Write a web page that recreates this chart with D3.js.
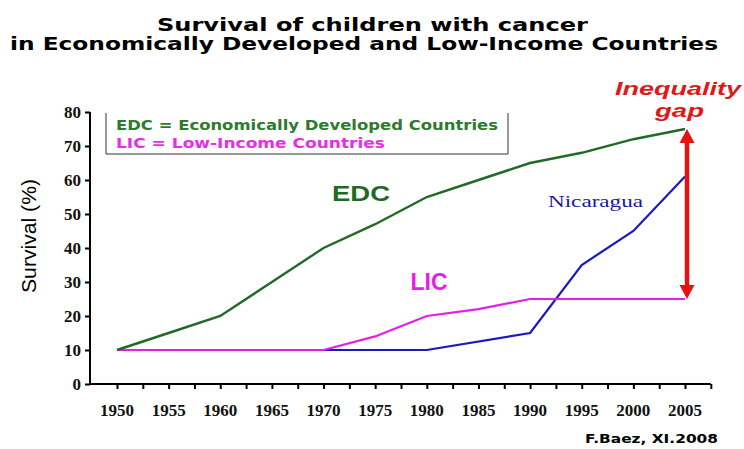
<!DOCTYPE html>
<html>
<head>
<meta charset="utf-8">
<script src="https://cdn.jsdelivr.net/npm/d3@7"></script>
<style>
  body { margin: 0; background: #fff; }
</style>
</head>
<body>
<div id="chart"></div>
<script>
// survival (%)
const years = [1950, 1955, 1960, 1965, 1970, 1975, 1980, 1985, 1990, 1995, 2000, 2005]
const edcValues = [10, 15, 20, 30, 40, 47, 55, 60, 65, 68, 72, 75]
const licValues = [10, 10, 10, 10, 10, 14, 20, 22, 25, 25, 25, 25]
const nicYears = [1970, 1980, 1990, 1995, 2000, 2005]
const nicValues = [10, 10, 15, 35, 45, 61]
const yTicks = [0, 10, 20, 30, 40, 50, 60, 70, 80]
const xLabels = ['1950', '1955', '1960', '1965', '1970', '1975', '1980', '1985', '1990', '1995', '2000', '2005']

const width = 744
const height = 449

const svg = d3.select('#chart')
    .append('svg')
    .attr('width', width)
    .attr('height', height)

const x = d3.scaleLinear().domain([1950, 2005]).range([117, 685])
const y = d3.scaleLinear().domain([0, 80]).range([384, 112])

// title (original font is wider than DejaVu, so stretch to fit)
svg.append('text')
    .attr('x', 157).attr('y', 31)
    .attr('textLength', 431).attr('lengthAdjust', 'spacingAndGlyphs')
    .style('font-family', 'DejaVu Sans').style('font-weight', 'bold').style('font-size', '17px')
    .text('Survival of children with cancer')
svg.append('text')
    .attr('x', 10).attr('y', 50)
    .attr('textLength', 708).attr('lengthAdjust', 'spacingAndGlyphs')
    .style('font-family', 'DejaVu Sans').style('font-weight', 'bold').style('font-size', '17px')
    .text('in Economically Developed and Low-Income Countries')

// y axis
const yAxis = svg.append('g')
    .attr('transform', 'translate(90,0)')
    .call(d3.axisLeft(y).tickValues(yTicks).tickSize(5).tickSizeOuter(0))
yAxis.select('.domain').attr('stroke', '#000').attr('stroke-width', 2).attr('d', `M0,${y(80)}V${y(0) + 1}`)
yAxis.selectAll('.tick line').attr('stroke-width', 2)
yAxis.selectAll('.tick text')
    .attr('x', -9)
    .style('font-family', 'Liberation Serif').style('font-weight', 'bold').style('font-size', '17px')
    .attr('fill', '#111')

// x axis with half-interval ticks
const xTickVals = d3.range(1950, 2008.5, 2.5)
const xAxis = svg.append('g')
    .attr('transform', `translate(0,${y(0)})`)
    .call(d3.axisBottom(x).tickValues(xTickVals).tickSize(5).tickFormat(''))
xAxis.select('.domain').attr('stroke', '#000').attr('stroke-width', 2).attr('d', `M89,0H${x(2007.5)}`)
xAxis.selectAll('.tick line').attr('stroke-width', 2)

svg.append('g').selectAll('text')
    .data(xLabels)
    .join('text')
    .attr('x', d => x(+d))
    .attr('y', 416)
    .attr('text-anchor', 'middle')
    .style('font-family', 'Liberation Serif').style('font-weight', 'bold').style('font-size', '17px')
    .attr('fill', '#111')
    .text(d => d)

// y axis title
svg.append('text')
    .attr('transform', 'translate(36,236) rotate(-90)')
    .attr('text-anchor', 'middle')
    .attr('textLength', 114).attr('lengthAdjust', 'spacingAndGlyphs')
    .style('font-family', 'Liberation Sans').style('font-size', '21px')
    .text('Survival (%)')

// legend box (no top border)
svg.append('path')
    .attr('d', 'M106,113V154H508V113')
    .attr('fill', 'none').attr('stroke', '#333').attr('stroke-width', 1)
svg.append('text')
    .attr('x', 116).attr('y', 130)
    .attr('textLength', 382).attr('lengthAdjust', 'spacingAndGlyphs')
    .style('font-family', 'DejaVu Sans').style('font-weight', 'bold').style('font-size', '14px')
    .attr('fill', '#2e7a2e')
    .text('EDC = Economically Developed Countries')
svg.append('text')
    .attr('x', 116).attr('y', 148)
    .attr('textLength', 269).attr('lengthAdjust', 'spacingAndGlyphs')
    .style('font-family', 'DejaVu Sans').style('font-weight', 'bold').style('font-size', '14px')
    .attr('fill', '#e62ee6')
    .text('LIC = Low-Income Countries')

const line = d3.line().x(d => x(d[0])).y(d => y(d[1]))

svg.append('path')
    .datum(d3.zip(nicYears, nicValues))
    .attr('d', line)
    .attr('fill', 'none').attr('stroke', '#1a1ac0').attr('stroke-width', 2.2)

svg.append('path')
    .datum(d3.zip(years, licValues))
    .attr('d', line)
    .attr('fill', 'none').attr('stroke', '#e61ee6').attr('stroke-width', 2.2)

svg.append('path')
    .datum(d3.zip(years, edcValues))
    .attr('d', line)
    .attr('fill', 'none').attr('stroke', '#1f6b24').attr('stroke-width', 2.4)

// series labels
svg.append('text')
    .attr('x', 332).attr('y', 201)
    .attr('textLength', 58).attr('lengthAdjust', 'spacingAndGlyphs')
    .style('font-family', 'Liberation Sans').style('font-weight', 'bold').style('font-size', '22px')
    .attr('fill', '#1f6b24')
    .text('EDC')
svg.append('text')
    .attr('x', 429).attr('y', 290)
    .attr('text-anchor', 'middle')
    .style('font-family', 'Liberation Sans').style('font-weight', 'bold').style('font-size', '23px')
    .attr('fill', '#e61ee6')
    .text('LIC')
svg.append('text')
    .attr('x', 548).attr('y', 207)
    .attr('textLength', 95).attr('lengthAdjust', 'spacingAndGlyphs')
    .style('font-family', 'Liberation Serif').style('font-size', '16px')
    .attr('fill', '#1a1a9a')
    .text('Nicaragua')

// inequality gap arrow
const gapX = x(2005) + 2
const gapTop = y(edcValues[edcValues.length - 1])
const gapBottom = y(licValues[licValues.length - 1])
svg.append('line')
    .attr('x1', gapX).attr('x2', gapX)
    .attr('y1', gapTop + 10).attr('y2', gapBottom - 10)
    .attr('stroke', '#e81010').attr('stroke-width', 4.5)
svg.append('path')
    .attr('d', `M${gapX},${gapTop}L${gapX - 7.5},${gapTop + 14}L${gapX + 7.5},${gapTop + 14}Z`)
    .attr('fill', '#e81010')
svg.append('path')
    .attr('d', `M${gapX},${gapBottom}L${gapX - 7.5},${gapBottom - 14}L${gapX + 7.5},${gapBottom - 14}Z`)
    .attr('fill', '#e81010')

svg.append('text')
    .attr('x', 615).attr('y', 95)
    .attr('textLength', 126).attr('lengthAdjust', 'spacingAndGlyphs')
    .style('font-family', 'Liberation Sans').style('font-weight', 'bold').style('font-style', 'italic').style('font-size', '19px')
    .attr('fill', '#e01818')
    .text('Inequality')
svg.append('text')
    .attr('x', 655).attr('y', 117)
    .attr('textLength', 49).attr('lengthAdjust', 'spacingAndGlyphs')
    .style('font-family', 'Liberation Sans').style('font-weight', 'bold').style('font-style', 'italic').style('font-size', '19px')
    .attr('fill', '#e01818')
    .text('gap')

// credit
svg.append('text')
    .attr('x', 585).attr('y', 443)
    .attr('textLength', 133).attr('lengthAdjust', 'spacingAndGlyphs')
    .style('font-family', 'DejaVu Sans').style('font-weight', 'bold').style('font-size', '12px')
    .text('F.Baez, XI.2008')
</script>
</body>
</html>
